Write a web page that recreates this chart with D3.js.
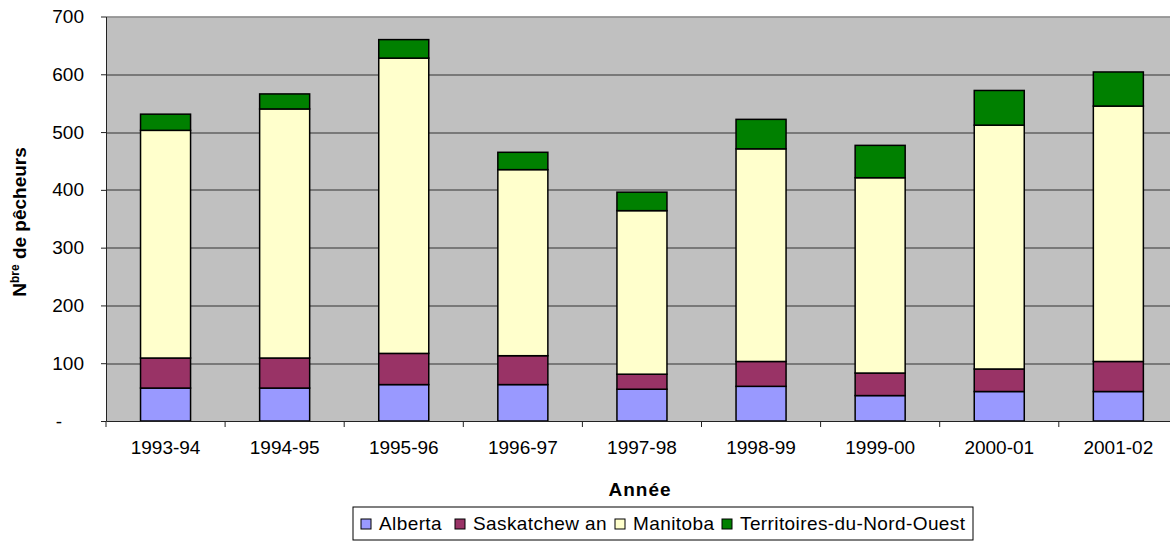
<!DOCTYPE html>
<html lang="fr">
  <head>
    <meta charset="utf-8">
    <script src="https://d3js.org/d3.v7.min.js"></script>
    <style>
    body { margin: 0; background: #fff; }
    svg { display: block; font-family: "Liberation Sans", Arial, sans-serif; }
    </style>
  </head>
  <body>
    <div id="place"></div>
    <script type="text/javascript">
    // values
    const years = ["1993-94", "1994-95", "1995-96", "1996-97", "1997-98", "1998-99", "1999-00", "2000-01", "2001-02"];
    const alberta = [57, 57, 63, 63, 55, 60, 44, 51, 51];
    const saskatchewan = [52, 52, 54, 50, 26, 43, 39, 39, 52];
    const manitoba = [394, 431, 511, 322, 283, 368, 338, 422, 442];
    const territoires = [28, 26, 32, 30, 32, 51, 56, 60, 59];
    const seriesNames = ["Alberta", "Saskatchew an", "Manitoba", "Territoires-du-Nord-Ouest"];
    const seriesKeys = ["alberta", "saskatchewan", "manitoba", "territoires"];
    const seriesColors = ["#9999FF", "#993366", "#FFFFCC", "#008000"];
    const yTicks = [0, 100, 200, 300, 400, 500, 600, 700];

    const W = 1170, H = 541;
    const margin = { top: 16.5, left: 106, bottom: 120 };
    const plotW = 9 * 119.1;
    const plotH = 421 - margin.top;
    const FONT = '"Liberation Sans", Arial, sans-serif';

    const svg = d3.select('#place').append('svg')
      .attr('width', W)
      .attr('height', H);
    const g = svg.append('g')
      .attr('transform', `translate(${margin.left},${margin.top})`);

    const table = years.map((y, i) => ({
      year: y,
      alberta: alberta[i],
      saskatchewan: saskatchewan[i],
      manitoba: manitoba[i],
      territoires: territoires[i]
    }));
    const stacked = d3.stack().keys(seriesKeys)(table);

    const xScale = d3.scaleBand()
      .domain(years)
      .range([0, plotW])
      .paddingInner(0.58)
      .paddingOuter(0.29);

    const yScale = d3.scaleLinear()
      .domain([0, 700])
      .range([plotH, 0]);

    // plot background
    g.append('rect')
      .attr('width', plotW)
      .attr('height', plotH)
      .attr('fill', '#C0C0C0');

    // gridlines
    g.append('g')
      .selectAll('line')
      .data(yTicks.filter(d => d > 0))
      .join('line')
      .attr('x1', 0)
      .attr('x2', plotW)
      .attr('y1', d => Math.round(yScale(d)) + 0.5)
      .attr('y2', d => Math.round(yScale(d)) + 0.5)
      .attr('stroke', d => d === 700 ? '#8a8a8a' : '#333')
      .attr('stroke-width', d => d === 700 ? 1.5 : 1);

    // bars
    g.append('g')
      .selectAll('g')
      .data(stacked)
      .join('g')
      .attr('fill', (d, i) => seriesColors[i])
      .selectAll('rect')
      .data(d => d)
      .join('rect')
      .attr('x', d => xScale(d.data.year))
      .attr('y', d => yScale(d[1]))
      .attr('width', xScale.bandwidth())
      .attr('height', d => yScale(d[0]) - yScale(d[1]))
      .attr('stroke', '#000')
      .attr('stroke-width', 1.5);

    // Y axis
    const yAxis = g.append('g')
      .call(d3.axisLeft(yScale)
        .tickValues(yTicks)
        .tickFormat(d => d === 0 ? '-' : d)
        .tickSize(5)
        .tickSizeOuter(0)
        .tickPadding(18));
    yAxis.select('.domain').attr('stroke', '#222');
    yAxis.selectAll('.tick line').attr('stroke', '#222');
    yAxis.selectAll('.tick text')
      .attr('font-size', 19)
      .attr('font-family', FONT)
      .attr('fill', '#000')
      .attr('x', d => d === 0 ? -44 : -22);

    // X axis
    const xAxis = g.append('g')
      .attr('transform', `translate(0,${plotH})`)
      .call(d3.axisBottom(xScale).tickSize(0).tickPadding(20));
    xAxis.select('.domain').attr('stroke', '#222');
    xAxis.selectAll('.tick text')
      .attr('font-size', 19)
      .attr('font-family', FONT)
      .attr('fill', '#000');
    // category separators
    xAxis.append('g')
      .selectAll('line')
      .data(d3.range(years.length + 1))
      .join('line')
      .attr('x1', i => i * xScale.step())
      .attr('x2', i => i * xScale.step())
      .attr('y1', 0)
      .attr('y2', 6)
      .attr('stroke', '#222');

    // Label for X Axis
    svg.append('text')
      .attr('x', 640)
      .attr('y', 496)
      .attr('text-anchor', 'middle')
      .attr('font-size', 19)
      .attr('letter-spacing', 1)
      .attr('font-weight', 'bold')
      .text('Année');

    // Label for Y Axis
    const yLab = svg.append('text')
      .attr('transform', 'translate(26,222) rotate(-90)')
      .attr('text-anchor', 'middle')
      .attr('font-size', 19)
      .attr('font-weight', 'bold');
    yLab.append('tspan').text('N');
    yLab.append('tspan').attr('font-size', 12).attr('dy', -7).text('bre');
    yLab.append('tspan').attr('dy', 7).text(' de pêcheurs');

    // legend
    const leg = svg.append('g').attr('transform', 'translate(353,507)');
    leg.append('rect')
      .attr('width', 620)
      .attr('height', 33)
      .attr('fill', '#fff')
      .attr('stroke', '#000')
      .attr('stroke-width', 1);
    const legX = [8, 102, 262, 369];
    const items = leg.selectAll('g.item')
      .data(seriesNames)
      .join('g')
      .attr('class', 'item')
      .attr('transform', (d, i) => `translate(${legX[i]},12)`);
    items.append('rect')
      .attr('width', 10)
      .attr('height', 10)
      .attr('fill', (d, i) => seriesColors[i])
      .attr('stroke', '#000')
      .attr('stroke-width', 1);
    items.append('text')
      .attr('x', 18)
      .attr('y', 11)
      .attr('font-size', 19)
      .attr('letter-spacing', 0.4)
      .text(d => d);
    </script>
  </body>
</html>
